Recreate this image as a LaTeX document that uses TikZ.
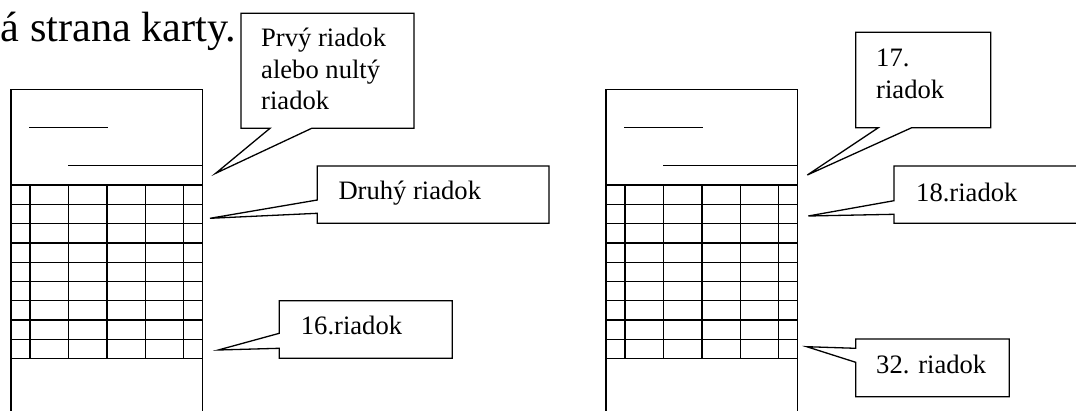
\documentclass[tikz,border=0pt]{standalone}
\usepackage{fontspec}
\setmainfont{Liberation Serif}
\newcommand\cardpic{%
  \draw[cardline] (0,415) -- (0,89.3) -- (191.5,89.3) -- (191.5,415);
  \draw[cardline] (19,127.3) -- (96.3,127.3);
  \draw[cardline] (57.3,165.8) -- (191.5,165.8);
  \foreach \k in {0,...,9}{\draw[cardline] (0,185+19.3*\k) -- (191.5,185+19.3*\k);}
  \foreach \c in {19,57.3,96,134.3,172.6}{\draw[cardline] (\c,185) -- (\c,358.7);}
}
\begin{document}
\begin{tikzpicture}[x=1pt,y=-1pt,
  cardline/.style={line width=1.3pt,line cap=rect},
  callout/.style={line width=1.3pt,fill=white,line join=miter},
  lbl/.style={font=\fontsize{26.6}{31.7}\selectfont,inner sep=0pt,anchor=base west,align=left}]
\clip (0,0) rectangle (1076,411);
\node[font=\fontsize{42.3}{50}\selectfont,inner sep=0pt,anchor=base west] (title) at (0.5,41.7) {á strana karty.};
\begin{scope}[xshift=11pt]\cardpic\end{scope}
\begin{scope}[xshift=606pt]\cardpic\end{scope}
% tips
\coordinate (t1) at (215.7,173.3);
\coordinate (t2) at (210,218.3);
\coordinate (t3) at (218.3,350);
\coordinate (t4) at (807.3,175);
\coordinate (t5) at (808.3,216);
\coordinate (t6) at (806.7,346.7);
% callouts
\draw[callout] (241,13.3) -- (414,13.3) -- (414,128.3) -- (311.7,128.3) -- (t1) -- (270,128.3) -- (241,128.3) -- cycle;
\draw[callout] (317.3,166) -- (549,166) -- (549,223.3) -- (317.3,223.3) -- (317.3,213.3) -- (t2) -- (317.3,200) -- cycle;
\draw[callout] (279.3,300.7) -- (452.3,300.7) -- (452.3,358.3) -- (279.3,358.3) -- (279.3,348.3) -- (t3) -- (279.3,333.3) -- cycle;
\draw[callout] (855.7,32.3) -- (990.7,32.3) -- (990.7,127.7) -- (911.7,127.7) -- (t4) -- (878.3,127.7) -- (855.7,127.7) -- cycle;
\draw[callout] (894,166) -- (1095,166) -- (1095,223.3) -- (894,223.3) -- (894,214.3) -- (t5) -- (894,200.7) -- cycle;
\draw[callout] (855.7,339) -- (1009.3,339) -- (1009.3,396.7) -- (855.7,396.7) -- (855.7,362.3) -- (t6) -- (855.7,348.3) -- cycle;
% texts (multi-line nodes: base = last line)
\node[lbl] (l1) at (261,110) {Prvý riadok\\alebo nultý\\riadok};
\node[lbl] (l2) at (338.3,200) {Druhý riadok};
\node[lbl] (l3) at (300.7,335) {16.riadok};
\node[lbl] (l4) at (876,98.3) {17.\\riadok};
\node[lbl] (l5) at (916,201.7) {18.riadok};
\node[lbl] (l6) at (876,373.3) {32. riadok};
\end{tikzpicture}
\end{document}
